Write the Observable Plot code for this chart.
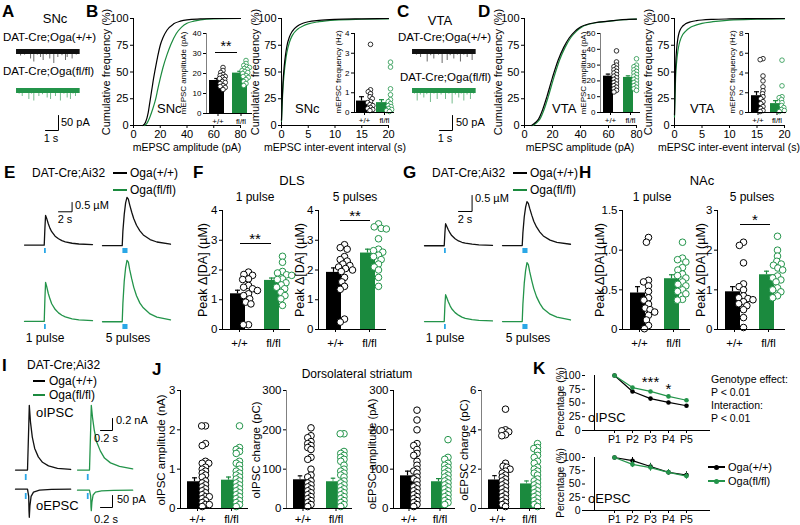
<!DOCTYPE html>
<html><head><meta charset="utf-8">
<script src="https://cdn.jsdelivr.net/npm/d3@7"></script>
<script src="https://cdn.jsdelivr.net/npm/@observablehq/plot@0.6"></script>
<style>
html,body{margin:0;padding:0;background:#fff;}
#fig{position:relative;width:800px;height:525px;overflow:hidden;font-family:"Liberation Sans",Arial,Helvetica,sans-serif;color:#000;background:#fff;}
.t{position:absolute;white-space:nowrap;line-height:1;}
</style></head><body><div id="fig"></div><script>
// ---------------- DATA ----------------
const GROUPS = ["+/+", "fl/fl"];
const LEG_WT = "Oga(+/+)", LEG_KO = "Oga(fl/fl)";
// A / C: mEPSC example traces (event time s, amplitude pA)
const sncWtT = [0.15,0.31,0.62,0.85,1.08,1.33,1.6,1.85,2.05,2.3,2.56,2.87,3.18,3.5,3.77,3.9,4.1,4.28,4.6];
const sncWtA = [-10,-15,-12,-10,-25,-35,-12,-20,-30,-12,-25,-40,-20,-14,-30,-20,-10,-25,-12];
const sncKoT = [0.2,0.44,0.7,0.95,1.15,1.33,1.72,2.0,2.36,2.62,2.8,3.0,3.38,3.65,3.9,4.15,4.35,4.54];
const sncKoA = [-12,-20,-10,-30,-12,-35,-20,-14,-25,-30,-10,-20,-35,-12,-25,-30,-12,-20];
const vtaWtT = [0.1,0.3,0.62,0.9,1.13,1.4,1.64,2.0,2.28,2.5,2.67,2.9,3.18,3.45,3.69,3.95,4.21,4.4,4.59];
const vtaWtA = [-10,-12,-20,-10,-35,-14,-25,-12,-40,-10,-30,-14,-25,-12,-35,-12,-20,-10,-30];
const vtaKoT = [0.15,0.36,0.6,0.87,1.1,1.38,1.65,1.9,2.2,2.54,2.8,3.05,3.3,3.56,3.75,3.95,4.2,4.46,4.7];
const vtaKoA = [-12,-35,-15,-25,-14,-40,-12,-30,-15,-30,-12,-45,-15,-25,-12,-35,-15,-30,-12];
// B / D: cumulative distributions
const sncAmpX_wt = [7,9,11,12,13,14,15,16,18,20,22,25,30,35,40,50,60,80];
const sncAmpY_wt = [0,3,12,20,28,36,44,51,64,75,82,89,95,97.5,98.8,99.6,100,100];
const sncAmpX_ko = [8,10,12,14,16,17,18,20,22,25,28,32,36,40,45,50,60,80];
const sncAmpY_ko = [0,2,7,14,22,27,33,44,54,66,76,86,92,95.5,97.5,98.7,99.7,100];
const iviX = [0,0.1,0.25,0.5,0.75,1,1.5,2,3,4,5,7,10,15,20];
const sncIviY_wt = [5,20,38,55,66,74,83,88,93,95.5,97,98.3,99.2,99.7,100];
const sncIviY_ko = [4,17,33,49,60,68,78,84,90,93,95,97,98.5,99.3,99.7];
const vtaAmpX_wt = [5,8,10,13,16,20,24,28,32,36,40,50,60,70,80];
const vtaAmpX_ko = [6,9,11,14,17,21,25,29,33,37,41,51,61,71,80];
const vtaAmpY = [0,3,6,15,27,45,61,73,82,88,92,96,97.5,99,99.5];
const vtaIviX = [0,0.1,0.2,0.4,0.6,0.8,1,1.5,2,3,4,5,7,10,15,20];
const vtaIviY_wt = [10,35,55,72,81,86,89,93,95,97,98,98.6,99.2,99.6,99.9,100];
const vtaIviY_ko = [8,28,45,60,69,75,79,85,88,92,94,95.5,97,98.5,99.3,99.7];
// insets
const sncAmpWt = [23,21.5,20.5,19.5,19,18.5,18,17.5,17,16,15.5,15,14,13.5,13,12];
const sncAmpKo = [26.5,25,24,23.5,23,22.5,22,21.5,21,20.5,20,19,18.5,18,17,16,15,14];
const sncAmpMean = [16.5,20.2], sncAmpSem = [1.0,0.9];
const sncFreqWt = [3.45,1.15,1.05,0.95,0.8,0.7,0.55,0.5,0.4,0.35,0.25,0.2,0.15,0.1];
const sncFreqKo = [2.55,2.3,1.2,0.9,0.65,0.55,0.45,0.35,0.3,0.2,0.15,0.1,0.05];
const sncFreqMean = [0.58,0.5], sncFreqSem = [0.22,0.15];
const vtaAmpWt = [39,32,30,29,28,27,26,25,24,23,22,21,20,19,18,17,16,15,14,13];
const vtaAmpKo = [34,30,29,28,27,26,25,24,23,22,21,20,19,18,17,16,15,14];
const vtaAmpMean = [23,22.2], vtaAmpSem = [1.3,1.0];
const vtaFreqWt = [5.45,5.35,3.7,3.2,2.6,2.2,1.9,1.6,1.4,1.1,0.9,0.6,0.4,0.2,0.1];
const vtaFreqKo = [5.3,2.7,1.6,1.5,1.3,1.0,0.7,0.5,0.3,0.2,0.1];
const vtaFreqMean = [1.7,0.9], vtaFreqSem = [0.4,0.3];
// E / G: dopamine transients (time s, µM)
const daT1 = [0,2.9,3.0,3.1,3.25,3.5,3.75,4,4.5,5,5.5,6,7,8,10];
const daT5 = [0,2.9,3.0,3.2,3.4,3.6,3.8,4.0,4.3,4.6,5,5.5,6,7,8,10];
const dlsWt1 = [0,0,0.9,1.6,1.45,1.15,0.9,0.72,0.48,0.34,0.24,0.18,0.1,0.06,0.03];
const dlsKo1 = [0,0,1.2,2.1,1.9,1.5,1.2,0.95,0.65,0.46,0.33,0.24,0.14,0.08,0.04];
const dlsWt5 = [0,0,0.8,1.7,2.3,2.6,2.5,2.2,1.8,1.45,1.1,0.8,0.58,0.33,0.2,0.08];
const dlsKo5 = [0,0,1.0,2.2,2.9,3.3,3.2,2.8,2.3,1.85,1.4,1.0,0.75,0.42,0.25,0.1];
const nacWt1 = [0,0,0.4,0.69,0.62,0.5,0.4,0.32,0.22,0.15,0.11,0.08,0.05,0.03,0.01];
const nacKo1 = [0,0,0.5,0.84,0.76,0.62,0.5,0.4,0.28,0.2,0.14,0.1,0.06,0.04,0.02];
const nacWt5 = [0,0,0.4,0.9,1.2,1.37,1.32,1.16,0.95,0.76,0.58,0.42,0.3,0.17,0.1,0.04];
const nacKo5 = [0,0,0.55,1.2,1.6,1.84,1.78,1.56,1.28,1.03,0.78,0.56,0.4,0.23,0.14,0.05];
const stim1 = [3.0];
const stim5 = [{a:3.0, b:3.75}];
// F / H: peak Δ[DA]
const dls1Wt = [1.93,1.85,1.82,1.70,1.68,1.48,1.42,1.37,1.31,1.2,1.14,1.03,0.92,0.86,0.16,0.16];
const dls1Ko = [2.46,2.26,1.95,1.9,1.84,1.82,1.7,1.68,1.57,1.5,1.42,1.37,1.25,1.14,1.03,0.81];
const dls5Wt = [2.85,2.75,2.7,2.45,2.35,2.3,2.2,2.15,2.1,2.05,2.0,1.95,1.75,1.6,1.45,1.35,0.35,0.25];
const dls5Ko = [3.55,3.45,3.4,3.38,3.05,2.7,2.65,2.6,2.5,2.45,2.35,2.2,2.1,2.0,1.75,1.45];
const nac1Wt = [1.16,1.1,0.62,0.6,0.55,0.48,0.4,0.37,0.32,0.27,0.25,0.22,0.18,0.12,0.05,0.01];
const nac1Ko = [1.1,0.9,0.88,0.85,0.78,0.75,0.7,0.68,0.65,0.6,0.57,0.55,0.5,0.48,0.45,0.38,0.37];
const nac5Wt = [2.2,2.12,1.68,1.15,1.08,1.0,0.85,0.8,0.78,0.75,0.7,0.65,0.6,0.5,0.3,0.05];
const nac5Ko = [2.35,2.0,1.85,1.72,1.65,1.62,1.55,1.5,1.35,1.3,1.25,1.2,1.05,1.0,0.95,0.85,0.8];
const dls1Mean = [1.2,1.65], dls1Sem = [0.12,0.08];
const dls5Mean = [1.92,2.57], dls5Sem = [0.15,0.13];
const nac1Mean = [0.46,0.64], nac1Sem = [0.08,0.05];
const nac5Mean = [0.95,1.38], nac5Sem = [0.13,0.09];
// I: optogenetic PSC traces
const iT = [0,0.2,0.22,0.23,0.25,0.28,0.32,0.38,0.45,0.55,0.7,0.92];
const ipscWt = [0,0,0.7,1.08,0.8,0.55,0.36,0.22,0.13,0.07,0.03,0.01];
const ipscKo = [0,0,0.7,1.08,0.88,0.66,0.47,0.32,0.2,0.12,0.06,0.02];
const eT = [0,0.2,0.22,0.225,0.23,0.24,0.26,0.3,0.4,0.6,0.92];
const epscWt = [0,0,-30,-90,-117,-70,-30,-12,-4,-1,0];
const epscKo = [0,0,-25,-70,-85,-50,-20,-8,-3,-1,0];
const iStim = [0.17];
// J: dorsolateral striatum
const oipscAmpWt = [2.1,2.1,1.65,1.6,1.2,1.15,1.15,1.05,1.0,0.95,0.9,0.85,0.8,0.7,0.65,0.6,0.55,0.5,0.45,0.4,0.35,0.3,0.3,0.25,0.2,0.15,0.1,0.1,0.05];
const oipscAmpKo = [2.1,1.55,1.5,1.45,1.4,1.2,1.15,1.1,1.0,0.95,0.9,0.85,0.8,0.75,0.7,0.65,0.6,0.55,0.5,0.45,0.4,0.35,0.3,0.25,0.2,0.15,0.1,0.05];
const oipscChWt = [205,185,180,170,165,160,155,150,130,125,100,85,80,70,65,60,55,50,45,40,35,30,25,20,15,10,5];
const oipscChKo = [190,190,145,140,135,130,125,120,110,100,95,90,85,80,70,65,60,55,50,45,40,35,30,25,20,15,10,5];
const oepscAmpWt = [250,225,200,165,160,150,140,135,120,110,100,95,90,80,75,70,60,55,50,45,40,35,30,25,20,15,10,5];
const oepscAmpKo = [175,130,125,115,110,105,100,95,90,85,80,75,70,65,60,55,50,45,40,35,30,25,20,15,10];
const oepscChWt = [5.05,4.0,3.95,3.9,3.75,3.7,2.3,2.15,2.1,2.0,1.9,1.8,1.7,1.6,1.5,1.4,1.3,1.2,1.1,1.0,0.9,0.8,0.7,0.6,0.5,0.4,0.3,0.2,0.1];
const oepscChKo = [3.3,3.1,3.05,2.9,2.7,2.6,2.4,2.3,2.1,2.0,1.9,1.8,1.7,1.5,1.4,1.3,1.2,1.1,1.0,0.9,0.8,0.7,0.6,0.5,0.4,0.3,0.2,0.1];
const jMeans = {oipscAmp:[0.68,0.72], oipscCh:[73,68], oepscAmp:[83,68], oepscCh:[1.45,1.25]};
const jSems = {oipscAmp:[0.1,0.08], oipscCh:[10,9], oepscAmp:[12,8], oepscCh:[0.22,0.15]};
// K: paired-pulse percentage
const kLabels = ["P1","P2","P3","P4","P5"];
const kIpscWt = [100,71,58,51,45], kIpscWtE = [0,2,2,2,2];
const kIpscKo = [100,78,71,62,55], kIpscKoE = [0,2,2,2,2];
const kEpscWt = [100,94,83,72,67], kEpscWtE = [0,6,6,5,6];
const kEpscKo = [100,87,81,72,65], kEpscKoE = [0,6,7,5,6];
const kSig = [{p:"P3", v:88, s:"***"}, {p:"P4", v:76, s:"*"}];

// ---------------- STYLE / HELPERS ----------------
const FONT = '"Liberation Sans", Arial, Helvetica, sans-serif';
const BLACK = "#000000", GREEN = "#1b8a3e", GREEN_T = "#23944a", BLUE = "#2aa7e6";
const fig = document.getElementById("fig");
const fmtG = d3.format("~g");
function st(size){ return {background:"transparent", fontFamily:FONT, fontSize:size+"px", overflow:"visible", color:"#000"}; }
function put(node, left, top){ node.style.position="absolute"; node.style.left=left+"px"; node.style.top=top+"px"; fig.appendChild(node); }
function txt(s, x, y, o={}){
  const {size=11, bold=false, anchor="start", rot=false, color="#000"} = o;
  const d = document.createElement("div"); d.className="t"; d.textContent=s;
  d.style.left=x+"px"; d.style.top=y+"px"; d.style.fontSize=size+"px"; d.style.color=color;
  if (bold) d.style.fontWeight="bold";
  const tx = anchor==="start"?"0":anchor==="middle"?"-50%":"-100%";
  d.style.transform = rot ? "translate(-50%,-50%) rotate(-90deg)" : `translate(${tx},-50%)`;
  fig.appendChild(d);
}
function hline(x1,x2,y,color="#000",w=1){
  const d=document.createElement("div"); d.style.position="absolute"; d.style.left=x1+"px"; d.style.top=(y-w/2)+"px";
  d.style.width=(x2-x1)+"px"; d.style.height=w+"px"; d.style.background=color; fig.appendChild(d);
}
function dotDiv(x,y,r,color){
  const d=document.createElement("div"); d.style.position="absolute"; d.style.left=(x-r)+"px"; d.style.top=(y-r)+"px";
  d.style.width=2*r+"px"; d.style.height=2*r+"px"; d.style.borderRadius="50%"; d.style.background=color; fig.appendChild(d);
}

function minis({x0, yBase, tMax, evT, evA, color, pxT=13, pxV=0.3, vMin=-45, vMax=10}){
  const ev = evT.map((t,i)=>({t, a: evA[i]}));
  const W = tMax*pxT, H = (vMax-vMin)*pxV;
  const svg = Plot.plot({width:W, height:H, margin:0, style:st(10),
    x:{domain:[0,tMax], axis:null}, y:{domain:[vMin,vMax], axis:null},
    marks:[
      Plot.ruleX(ev, {x:"t", y1:()=>0, y2:"a", stroke:color, strokeWidth:0.9, strokeOpacity:0.7}),
      Plot.ruleY([0], {stroke:color, strokeWidth:5})
    ]});
  put(svg, x0, yBase - vMax*pxV);
}
function trace({x0, yBase, t, v, pxT, pxV, color, sw=1.3, pad=0.1}){
  const tMin=t[0], tMax=t[t.length-1];
  const vMin = Math.min(...v) - pad, vMax = Math.max(...v) + pad;
  const data = t.map((tt,i)=>({t:tt, v:v[i]}));
  const svg = Plot.plot({width:(tMax-tMin)*pxT, height:(vMax-vMin)*pxV, margin:0, style:st(10),
    x:{domain:[tMin,tMax], axis:null}, y:{domain:[vMin,vMax], axis:null},
    marks:[Plot.line(data, {x:"t", y:"v", stroke:color, strokeWidth:sw})]});
  put(svg, x0, yBase - vMax*pxV);
}
function stim({x0, y0, tDomain, pxT, pulses=null, train=null, h=5}){
  const marks = [];
  if (pulses) marks.push(Plot.ruleX(pulses, {stroke:BLUE, strokeWidth:1.8}));
  if (train) marks.push(Plot.rect(train, {x1:"a", x2:"b", fill:BLUE}));
  const svg = Plot.plot({width:(tDomain[1]-tDomain[0])*pxT, height:h, margin:0, style:st(10),
    x:{domain:tDomain, axis:null}, marks});
  put(svg, x0, y0);
}
function scaleBar({xRight, yBottom, tLen, vLen, pxT, pxV}){
  const pts = [{t:tLen, v:vLen}, {t:tLen, v:0}, {t:0, v:0}];
  const W = tLen*pxT, H = vLen*pxV;
  const svg = Plot.plot({width:W+2, height:H+2, margin:1, style:st(10),
    x:{domain:[0,tLen], axis:null}, y:{domain:[0,vLen], axis:null},
    marks:[Plot.line(pts, {x:"t", y:"v", stroke:"#000", strokeWidth:1})]});
  put(svg, xRight-W-1, yBottom-H-1);
}
function cdf({x0,x1,y0,y1,xDomain,xTicks, wtX, wtY, koX, koY, font=11}){
  const wt = wtX.map((x,i)=>({x, y:wtY[i]})), ko = koX.map((x,i)=>({x, y:koY[i]}));
  const ml=30, mr=8, mt=6, mb=18;
  const svg = Plot.plot({width:x1-x0+ml+mr, height:y1-y0+mt+mb, marginLeft:ml, marginRight:mr, marginTop:mt, marginBottom:mb, style:st(font),
    x:{domain:xDomain, ticks:xTicks, tickFormat:fmtG, tickSize:3, tickPadding:2, label:null},
    y:{domain:[0,100], ticks:[0,25,50,75,100], tickFormat:fmtG, tickSize:3, tickPadding:2, label:null},
    marks:[
      Plot.ruleX([xDomain[0]]), Plot.ruleY([0]),
      Plot.line(ko, {x:"x", y:"y", stroke:GREEN, strokeWidth:1.2, curve:"monotone-x"}),
      Plot.line(wt, {x:"x", y:"y", stroke:BLACK, strokeWidth:1.2, curve:"monotone-x"})
    ]});
  put(svg, x0-ml, y0-mt);
}
function bars({x0,x1,y0,y1,yDomain,yTicks,tickFormat=fmtG,wt,ko,mean,sem,font=11,r=3.2,dodgeR=2.2,insetL,insetR,dotDx,ml=30,mb=16,sw=1,fxPad=2}){
  const W = x1-x0, fw = W/2, bw = fw-insetL-insetR;
  const dWt = wt.map(v=>({g:GROUPS[0], v})), dKo = ko.map(v=>({g:GROUPS[1], v}));
  const sWt = [{g:GROUPS[0], m:mean[0], e:sem[0]}], sKo = [{g:GROUPS[1], m:mean[1], e:sem[1]}];
  const stemL = insetL+bw/2-0.6, stemR = insetR+bw/2-0.6;
  const capL = insetL+bw/2-2.5, capR = insetR+bw/2-2.5;
  const marks = [];
  for (const [s, col] of [[sWt, BLACK],[sKo, GREEN]]) {
    marks.push(Plot.barY(s, {fx:"g", y1:"m", y2:d=>d.m+d.e, fill:col, insetLeft:stemL, insetRight:stemR}));
    marks.push(Plot.tickY(s, {fx:"g", y:d=>d.m+d.e, stroke:col, strokeWidth:1.2, insetLeft:capL, insetRight:capR}));
    marks.push(Plot.barY(s, {fx:"g", y1:()=>yDomain[0], y2:"m", fill:col, insetLeft:insetL, insetRight:insetR}));
  }
  marks.push(Plot.dot(dWt, Plot.dodgeX({anchor:"middle", padding:0}, {fx:"g", y:"v", r:dodgeR, fill:"white", stroke:BLACK, strokeWidth:sw, dx:dotDx})));
  marks.push(Plot.dot(dKo, Plot.dodgeX({anchor:"middle", padding:0}, {fx:"g", y:"v", r:dodgeR, fill:"white", stroke:GREEN_T, strokeWidth:sw, dx:dotDx})));
  marks.push(Plot.ruleY([yDomain[0]], {stroke:"#000"}));
  marks.push(Plot.barY([{g:GROUPS[0]}], {fx:"g", y1:()=>yDomain[0], y2:()=>yDomain[1], fill:"#000", insetRight:fw-1}));
  const mt=4, mr=4;
  const svg = Plot.plot({width:W+ml+mr, height:y1-y0+mt+mb, marginLeft:ml, marginRight:mr, marginTop:mt, marginBottom:mb, style:st(font),
    fx:{domain:GROUPS, padding:0, axis:"bottom", label:null, tickSize:3, tickPadding:fxPad},
    y:{domain:yDomain, ticks:yTicks, tickFormat, tickSize:3, tickPadding:2, label:null},
    marks});
  // draw the symbols at their printed size (layout was computed with a tighter radius, as the dots overlap in the figure)
  svg.querySelectorAll("circle").forEach(c => c.setAttribute("r", r));
  put(svg, x0-ml, y0-mt);
}
function kPlot({x0,x1,y0,y1, wt, wtE, ko, koE, sig=[]}){
  const mk = (vals, errs) => kLabels.map((p,i)=>({p, v:vals[i], e:errs[i]}));
  const dw = mk(wt, wtE), dk = mk(ko, koE);
  const ml=22, mr=5, mt=5, mb=16, iL=20, iR=15;
  const marks = [Plot.ruleY([0]), Plot.ruleX([kLabels[0]], {dx:-iL})];
  for (const [d, col] of [[dw, BLACK],[dk, GREEN_T]]) {
    marks.push(Plot.ruleX(d, {x:"p", y1:q=>q.v-q.e, y2:q=>q.v+q.e, stroke:col, strokeWidth:1}));
    marks.push(Plot.line(d, {x:"p", y:"v", stroke:col, strokeWidth:1.2}));
    marks.push(Plot.dot(d, {x:"p", y:"v", fill:col, r:2.3}));
  }
  if (sig.length) marks.push(Plot.text(sig, {x:"p", y:"v", text:"s", fontSize:15}));
  const svg = Plot.plot({width:x1-x0+ml+mr, height:y1-y0+mt+mb, marginLeft:ml, marginRight:mr, marginTop:mt, marginBottom:mb, style:st(10.5),
    x:{type:"point", domain:kLabels, insetLeft:iL, insetRight:iR, tickSize:3, tickPadding:2, label:null},
    y:{domain:[0,100], ticks:[0,25,50,75,100], tickFormat:fmtG, tickSize:3, tickPadding:2, label:null},
    marks});
  put(svg, x0-ml, y0-mt);
}

// ---------------- ROW 1 ----------------
txt("A", 2, 11, {size:17, bold:true});
txt("SNc", 55, 18, {size:13, anchor:"middle"});
txt("DAT-Cre;Oga(+/+)", 3, 38, {size:11.5});
txt("DAT-Cre;Oga(fl/fl)", 3, 72, {size:11.5});
minis({x0:16, yBase:51, tMax:4.9, evT:sncWtT, evA:sncWtA, color:"#111"});
minis({x0:16, yBase:90, tMax:4.9, evT:sncKoT, evA:sncKoA, color:GREEN_T});
scaleBar({xRight:58, yBottom:130, tLen:1, vLen:50, pxT:13, pxV:0.3});
txt("50 pA", 61, 122, {size:11});
txt("1 s", 51, 138, {size:11, anchor:"middle"});

const insetOpt = {font:8, r:2.3, dodgeR:1.5, mb:12, sw:0.8};
txt("B", 86, 11, {size:17, bold:true});
cdf({x0:133, x1:240, y0:18, y1:125, xDomain:[0,80], xTicks:[0,20,40,60,80], wtX:sncAmpX_wt, wtY:sncAmpY_wt, koX:sncAmpX_ko, koY:sncAmpY_ko});
txt("Cumulative frequency (%)", 106, 72, {size:11, rot:true});
txt("mEPSC amplitude (pA)", 187, 147, {size:10.5, anchor:"middle"});
txt("SNc", 157, 108, {size:13});
bars({...insetOpt, x0:205, x1:252, y0:33, y1:113, yDomain:[0,40], yTicks:[0,10,20,30,40], wt:sncAmpWt, ko:sncAmpKo, mean:sncAmpMean, sem:sncAmpSem, insetL:3, insetR:5, dotDx:5, ml:16});
txt("mEPSC amplitude (pA)", 184, 73, {size:8, rot:true});
txt("**", 226, 46, {size:14, anchor:"middle"}); hline(215, 237, 52);

cdf({x0:281, x1:388, y0:18, y1:125, xDomain:[0,20], xTicks:[0,5,10,15,20], wtX:iviX, wtY:sncIviY_wt, koX:iviX, koY:sncIviY_ko});
txt("Cumulative frequency (%)", 255, 72, {size:11, rot:true});
txt("mEPSC inter-event interval (s)", 335, 147, {size:10.5, anchor:"middle"});
txt("SNc", 295, 108, {size:13});
bars({...insetOpt, x0:354, x1:394, y0:33, y1:112, yDomain:[0,4], yTicks:[0,1,2,3,4], wt:sncFreqWt, ko:sncFreqKo, mean:sncFreqMean, sem:sncFreqSem, insetL:2, insetR:7, dotDx:6, ml:12});
txt("mEPSC frequency (Hz)", 339, 72, {size:8, rot:true});

txt("C", 397, 11, {size:17, bold:true});
txt("VTA", 440, 20, {size:13, anchor:"middle"});
txt("DAT-Cre;Oga(+/+)", 398, 38, {size:11.5});
txt("DAT-Cre;Oga(fl/fl)", 400, 78, {size:11.5});
minis({x0:412, yBase:51, tMax:4.9, evT:vtaWtT, evA:vtaWtA, color:"#111"});
minis({x0:412, yBase:90, tMax:4.9, evT:vtaKoT, evA:vtaKoA, color:GREEN_T});
scaleBar({xRight:452, yBottom:130, tLen:1, vLen:50, pxT:13, pxV:0.3});
txt("50 pA", 456, 122, {size:11});
txt("1 s", 445, 138, {size:11, anchor:"middle"});

txt("D", 478, 11, {size:17, bold:true});
cdf({x0:524, x1:636, y0:18, y1:125, xDomain:[0,80], xTicks:[0,20,40,60,80], wtX:vtaAmpX_wt, wtY:vtaAmpY, koX:vtaAmpX_ko, koY:vtaAmpY});
txt("Cumulative frequency (%)", 498, 72, {size:11, rot:true});
txt("mEPSC amplitude (pA)", 580, 147, {size:10.5, anchor:"middle"});
txt("VTA", 552, 108, {size:13});
bars({...insetOpt, x0:599, x1:640, y0:33, y1:112, yDomain:[0,50], yTicks:[0,10,20,30,40,50], wt:vtaAmpWt, ko:vtaAmpKo, mean:vtaAmpMean, sem:vtaAmpSem, insetL:3, insetR:7, dotDx:6, ml:12});
txt("mEPSC amplitude (pA)", 584, 73, {size:8, rot:true});

cdf({x0:674, x1:784, y0:18, y1:125, xDomain:[0,20], xTicks:[0,5,10,15,20], wtX:vtaIviX, wtY:vtaIviY_wt, koX:vtaIviX, koY:vtaIviY_ko});
txt("Cumulative frequency (%)", 648, 72, {size:11, rot:true});
txt("mEPSC inter-event interval (s)", 729, 147, {size:10.5, anchor:"middle"});
txt("VTA", 690, 108, {size:13});
bars({...insetOpt, x0:748, x1:786, y0:33, y1:112, yDomain:[0,8], yTicks:[0,2,4,6,8], wt:vtaFreqWt, ko:vtaFreqKo, mean:vtaFreqMean, sem:vtaFreqSem, insetL:3, insetR:5, dotDx:5, ml:12});
txt("mEPSC frequency (Hz)", 733, 72, {size:8, rot:true});

// ---------------- ROW 2 ----------------
function daRow({xOff, wt1, ko1, wt5, ko5, pxV}){
  const pxT = 6.8;
  trace({x0:xOff+24, yBase:245, t:daT1, v:wt1, pxT, pxV, color:"#111"});
  trace({x0:xOff+102, yBase:245, t:daT5, v:wt5, pxT, pxV, color:"#111"});
  trace({x0:xOff+24, yBase:321, t:daT1, v:ko1, pxT, pxV, color:GREEN_T});
  trace({x0:xOff+102, yBase:321, t:daT5, v:ko5, pxT, pxV, color:GREEN_T});
  for (const yb of [245, 321]) {
    stim({x0:xOff+24, y0:yb+3, tDomain:[0,10], pxT, pulses:stim1});
    stim({x0:xOff+102, y0:yb+3, tDomain:[0,10], pxT, train:stim5});
  }
  scaleBar({xRight:xOff+72, yBottom:211, tLen:2, vLen:0.5, pxT, pxV});
  txt("0.5 µM", xOff+75, 211-0.5*pxV+3, {size:11});
  txt("2 s", xOff+65, 219, {size:11, anchor:"middle"});
  txt("1 pulse", xOff+45, 338, {size:12, anchor:"middle"});
  txt("5 pulses", xOff+128, 338, {size:12, anchor:"middle"});
  txt("DAT-Cre;Ai32", xOff+32, 173, {size:12});
  hline(xOff+113, xOff+127, 173, "#000", 1.5); txt(LEG_WT, xOff+130, 173, {size:12});
  hline(xOff+113, xOff+127, 190, GREEN, 1.5); txt(LEG_KO, xOff+130, 190, {size:12});
}
txt("E", 4, 172, {size:17, bold:true});
daRow({xOff:0, wt1:dlsWt1, ko1:dlsKo1, wt5:dlsWt5, ko5:dlsKo5, pxV:18.6});
txt("G", 403, 172, {size:17, bold:true});
daRow({xOff:400, wt1:nacWt1, ko1:nacKo1, wt5:nacWt5, ko5:nacKo5, pxV:32});

txt("F", 193, 172, {size:17, bold:true});
txt("DLS", 292, 180, {size:13, anchor:"middle"});
txt("1 pulse", 255, 197, {size:12, anchor:"middle"});
txt("5 pulses", 355, 197, {size:12, anchor:"middle"});
const rowBar = {y0:210, y1:329, font:11.5, r:3.3, dodgeR:2.6, insetL:8, insetR:11, dotDx:9, ml:22, mb:22, fxPad:6};
bars({...rowBar, x0:222, x1:290, yDomain:[0,4], yTicks:[0,1,2,3,4], wt:dls1Wt, ko:dls1Ko, mean:dls1Mean, sem:dls1Sem});
bars({...rowBar, x0:318, x1:386, yDomain:[0,4], yTicks:[0,1,2,3,4], wt:dls5Wt, ko:dls5Ko, mean:dls5Mean, sem:dls5Sem});
txt("Peak Δ[DA] (µM)", 203, 270, {size:12.5, rot:true});
txt("Peak Δ[DA] (µM)", 300, 270, {size:12.5, rot:true});
txt("**", 255, 238, {size:15, anchor:"middle"}); hline(240, 271, 243);
txt("**", 355, 215, {size:15, anchor:"middle"}); hline(340, 370, 220);

txt("H", 579, 172, {size:17, bold:true});
txt("NAc", 702, 180, {size:13, anchor:"middle"});
txt("1 pulse", 652, 197, {size:12, anchor:"middle"});
txt("5 pulses", 752, 197, {size:12, anchor:"middle"});
bars({...rowBar, x0:622, x1:690, yDomain:[0,1.5], yTicks:[0,0.5,1,1.5], tickFormat:d=>d===0?"0":d.toFixed(1), wt:nac1Wt, ko:nac1Ko, mean:nac1Mean, sem:nac1Sem, ml:26});
bars({...rowBar, x0:717, x1:785, yDomain:[0,3], yTicks:[0,1,2,3], wt:nac5Wt, ko:nac5Ko, mean:nac5Mean, sem:nac5Sem});
txt("Peak Δ[DA] (µM)", 600, 270, {size:12.5, rot:true});
txt("Peak Δ[DA] (µM)", 701, 270, {size:12.5, rot:true});
txt("*", 755, 219, {size:15, anchor:"middle"}); hline(740, 770, 224);

// ---------------- ROW 3 ----------------
txt("I", 2, 365, {size:17, bold:true});
txt("DAT-Cre;Ai32", 27, 365, {size:12});
hline(33, 45, 381, "#000", 1.5); txt(LEG_WT, 49, 381, {size:12});
hline(33, 45, 395, GREEN, 1.5); txt(LEG_KO, 49, 395, {size:12});
txt("oIPSC", 36, 412, {size:13});
trace({x0:15, yBase:470, t:iT, v:ipscWt, pxT:60, pxV:60, color:"#111", pad:0.03});
trace({x0:77, yBase:470, t:iT, v:ipscKo, pxT:60, pxV:60, color:GREEN_T, pad:0.03});
stim({x0:15, y0:474, tDomain:[0,0.92], pxT:60, pulses:iStim, h:6});
stim({x0:77, y0:474, tDomain:[0,0.92], pxT:60, pulses:iStim, h:6});
scaleBar({xRight:112, yBottom:430, tLen:0.2, vLen:0.2, pxT:60, pxV:60});
txt("0.2 nA", 116, 420, {size:11});
txt("0.2 s", 106, 438, {size:11, anchor:"middle"});
trace({x0:15, yBase:489, t:eT, v:epscWt, pxT:60, pxV:0.24, color:"#111", pad:3});
trace({x0:77, yBase:490, t:eT, v:epscKo, pxT:60, pxV:0.24, color:GREEN_T, pad:3});
stim({x0:15, y0:493, tDomain:[0,0.92], pxT:60, pulses:iStim, h:6});
stim({x0:77, y0:493, tDomain:[0,0.92], pxT:60, pulses:iStim, h:6});
scaleBar({xRight:112, yBottom:507, tLen:0.2, vLen:50, pxT:60, pxV:0.24});
txt("oEPSC", 36, 505, {size:13});
txt("50 pA", 117, 499, {size:11});
txt("0.2 s", 106, 519, {size:11, anchor:"middle"});

txt("J", 152, 369, {size:17, bold:true});
txt("Dorsolateral striatum", 357, 374, {size:12, anchor:"middle"});
const jBar = {y0:390, y1:508, font:11.5, r:3.3, dodgeR:1.9, insetL:7, insetR:12, dotDx:8, ml:22, mb:16, fxPad:3};
bars({...jBar, x0:180, x1:248, yDomain:[0,3], yTicks:[0,1,2,3], wt:oipscAmpWt, ko:oipscAmpKo, mean:jMeans.oipscAmp, sem:jSems.oipscAmp});
bars({...jBar, x0:285, x1:352, yDomain:[0,300], yTicks:[0,100,200,300], wt:oipscChWt, ko:oipscChKo, mean:jMeans.oipscCh, sem:jSems.oipscCh});
bars({...jBar, x0:393, x1:455, yDomain:[0,300], yTicks:[0,100,200,300], insetR:9, wt:oepscAmpWt, ko:oepscAmpKo, mean:jMeans.oepscAmp, sem:jSems.oepscAmp});
bars({...jBar, x0:480, x1:545, yDomain:[0,6], yTicks:[0,2,4,6], wt:oepscChWt, ko:oepscChKo, mean:jMeans.oepscCh, sem:jSems.oepscCh});
txt("oIPSC amplitude (nA)", 162, 450, {size:11.5, rot:true});
txt("oIPSC charge (pC)", 257, 450, {size:11.5, rot:true});
txt("oEPSC amplitude (pA)", 372, 454, {size:11, rot:true});
txt("oEPSC charge (pC)", 465, 450, {size:11.5, rot:true});

txt("K", 533, 368, {size:17, bold:true});
kPlot({x0:585, x1:710, y0:375, y1:430, wt:kIpscWt, wtE:kIpscWtE, ko:kIpscKo, koE:kIpscKoE, sig:kSig});
kPlot({x0:585, x1:710, y0:457, y1:510, wt:kEpscWt, wtE:kEpscWtE, ko:kEpscKo, koE:kEpscKoE});
txt("Percentage (%)", 561, 402, {size:10, rot:true});
txt("Percentage (%)", 561, 483, {size:10, rot:true});
txt("oIPSC", 588, 417, {size:13});
txt("oEPSC", 588, 498, {size:13});
txt("Genotype effect:", 711, 379, {size:10.5});
txt("P < 0.01", 711, 392, {size:10.5});
txt("Interaction:", 711, 405, {size:10.5});
txt("P < 0.01", 711, 418, {size:10.5});
hline(708, 725, 467, "#000", 1.2); dotDiv(716.5, 467, 2.5, "#000"); txt(LEG_WT, 728, 467, {size:11});
hline(708, 725, 481, GREEN_T, 1.2); dotDiv(716.5, 481, 2.5, GREEN_T); txt(LEG_KO, 728, 481, {size:11});
</script></body></html>
